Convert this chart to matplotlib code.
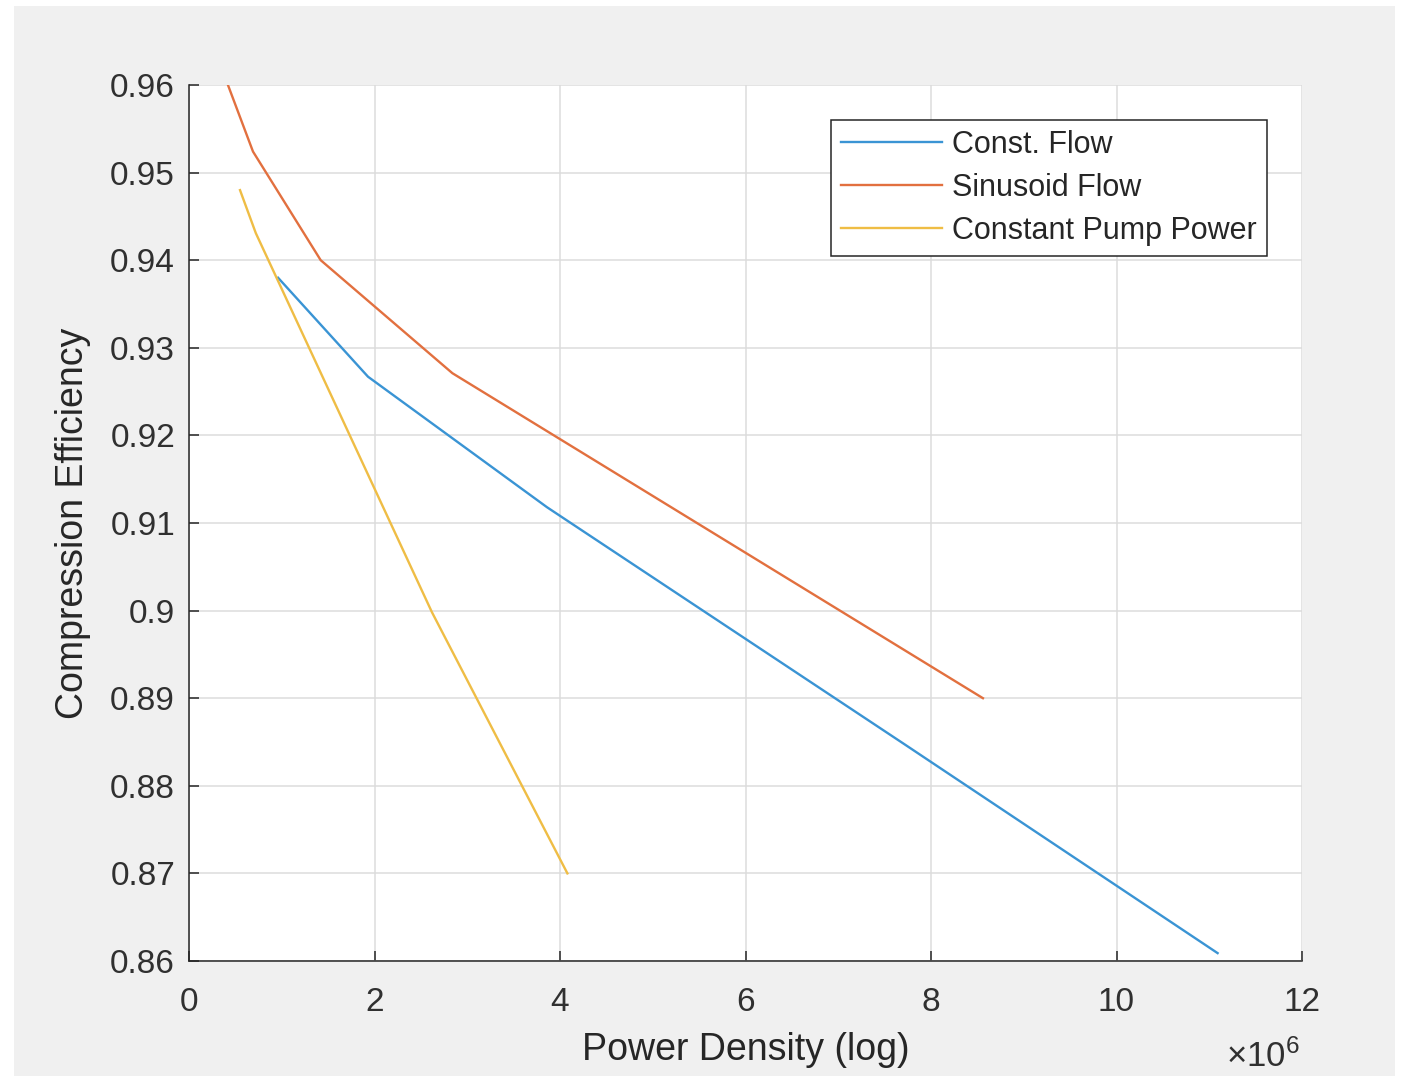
import matplotlib
matplotlib.use("Agg")
import matplotlib.pyplot as plt
from matplotlib.patches import Rectangle
from matplotlib.ticker import FuncFormatter

# ---- data (power density in W, efficiency) ----
const_flow_x = [0.96e6, 1.93e6, 3.86e6, 7.72e6, 11.09e6]
const_flow_y = [0.9380, 0.9267, 0.9118, 0.8847, 0.8609]

sinus_flow_x = [0.42e6, 0.69e6, 1.42e6, 2.84e6, 8.56e6]
sinus_flow_y = [0.9600, 0.9524, 0.9400, 0.9271, 0.8900]

pump_power_x = [0.55e6, 0.72e6, 2.62e6, 4.08e6]
pump_power_y = [0.9480, 0.9431, 0.8998, 0.8700]

series_labels = ["Const. Flow", "Sinusoid Flow", "Constant Pump Power"]
x_ticks = [0, 2e6, 4e6, 6e6, 8e6, 10e6, 12e6]
y_ticks = [0.86, 0.87, 0.88, 0.89, 0.90, 0.91, 0.92, 0.93, 0.94, 0.95, 0.96]

plt.rcParams['font.family'] = ['Liberation Sans', 'DejaVu Sans']
plt.rcParams['mathtext.fontset'] = 'custom'
plt.rcParams['mathtext.rm'] = 'Liberation Sans'
plt.rcParams['mathtext.it'] = 'Liberation Sans'

W, H = 1403, 1076
fig = plt.figure(figsize=(W / 100, H / 100), dpi=100, facecolor='white')
# grey MATLAB figure background
fig.patches.append(Rectangle((14 / W, 0), (1395 - 14) / W, (1075 - 5) / H,
                             transform=fig.transFigure, facecolor='#f0f0f0',
                             edgecolor='none', zorder=-10))

ax = fig.add_axes([189 / W, (H - 961) / H, (1302 - 189) / W, (961 - 85) / H])
ax.set_facecolor('white')

colors = ['#3a94d4', '#e2703f', '#efbd45']
ax.plot(const_flow_x, const_flow_y, color=colors[0], lw=1.7, label=series_labels[0])
ax.plot(sinus_flow_x, sinus_flow_y, color=colors[1], lw=1.7, label=series_labels[1])
ax.plot(pump_power_x, pump_power_y, color=colors[2], lw=1.7, label=series_labels[2])

ax.set_xlim(0, 12e6)
ax.set_ylim(0.86, 0.96)
ax.set_xticks(x_ticks)
ax.set_yticks(y_ticks)
ax.xaxis.set_major_formatter(FuncFormatter(lambda v, p: '%g' % (v / 1e6)))
ax.yaxis.set_major_formatter(FuncFormatter(lambda v, p: '%g' % round(v, 2)))

ax.grid(True, color='#dcdcdc', lw=1.1)
ax.set_axisbelow(True)
for s in ['top', 'right']:
    ax.spines[s].set_visible(False)
for s in ['left', 'bottom']:
    ax.spines[s].set_color('#262626')
    ax.spines[s].set_linewidth(1.1)

ax.tick_params(axis='both', direction='in', length=7, width=1.1, color='#262626',
               labelcolor='#303030', labelsize=24)
ax.tick_params(axis='x', pad=19)
ax.tick_params(axis='y', pad=10)

ax.set_xlabel('Power Density (log)', fontsize=27, color='#262626', labelpad=10)
ax.set_ylabel('Compression Efficiency', fontsize=27, color='#262626', labelpad=14)

fig.text(1300 / W, (H - 1057) / H, r'$\times10^{6}$', fontsize=25, color='#303030',
         ha='right', va='center')

leg = ax.legend(loc='upper right',
                bbox_to_anchor=((1267 - 189) / (1302 - 189), (961 - 120) / (961 - 85)),
                fontsize=22, frameon=True, fancybox=False, handlelength=3.3,
                handletextpad=0.33, borderpad=0.33, labelspacing=0.42,
                borderaxespad=0, framealpha=1)
leg.get_frame().set_edgecolor('#262626')
leg.get_frame().set_linewidth(1.1)
for t in leg.get_texts():
    t.set_color('#262626')

fig.savefig('out.png', dpi=100, facecolor='white')
